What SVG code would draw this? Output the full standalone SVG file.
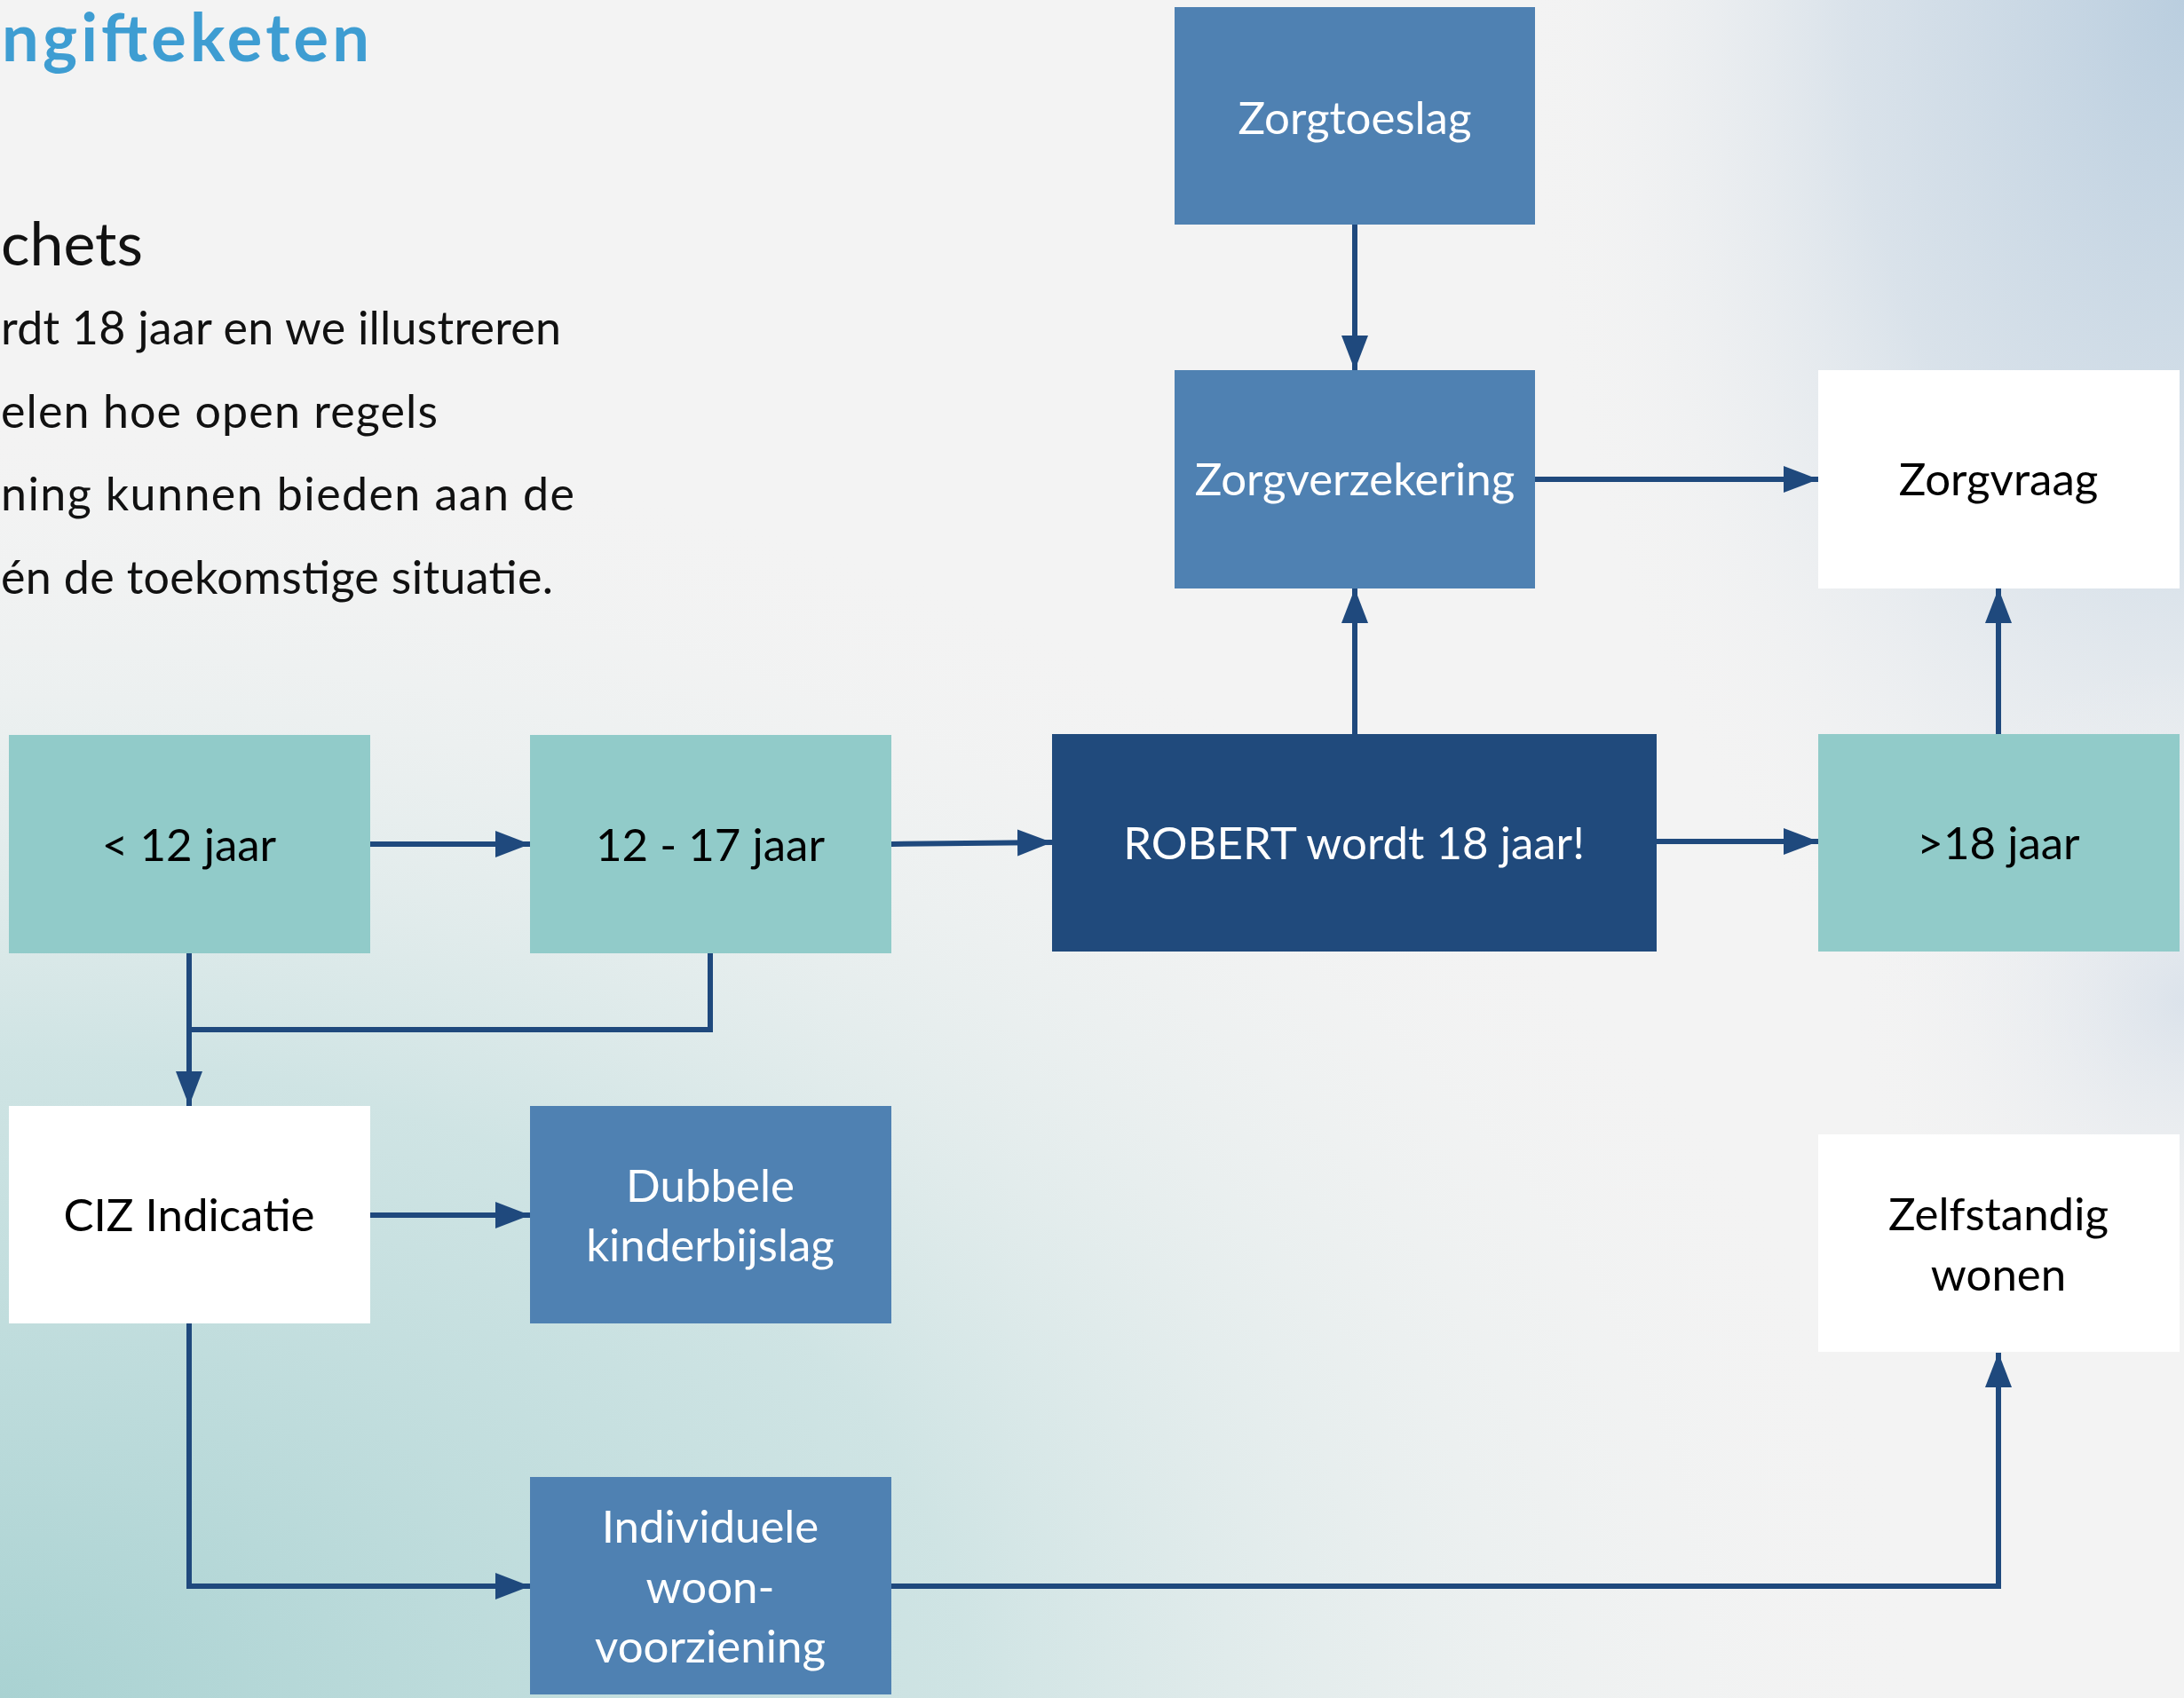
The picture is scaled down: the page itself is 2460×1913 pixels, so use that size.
<svg xmlns="http://www.w3.org/2000/svg" width="2460" height="1913" viewBox="0 0 2460 1913">
<defs>
<radialGradient id="gTeal" gradientUnits="userSpaceOnUse" cx="0" cy="1913" r="1450" gradientTransform="translate(0,1913) scale(1.5,1) translate(0,-1913)">
<stop offset="0" stop-color="#A9D2D2" stop-opacity="1"/>
<stop offset="0.5" stop-color="#C6E0E0" stop-opacity="0.8"/>
<stop offset="1" stop-color="#F3F3F3" stop-opacity="0"/>
</radialGradient>
<radialGradient id="gBlue" gradientUnits="userSpaceOnUse" cx="2460" cy="0" r="750" gradientTransform="translate(2460,0) scale(1,1.7) translate(-2460,0)">
<stop offset="0" stop-color="#BACEDF" stop-opacity="1"/>
<stop offset="0.5" stop-color="#D3DEE8" stop-opacity="0.8"/>
<stop offset="1" stop-color="#F3F3F3" stop-opacity="0"/>
</radialGradient>
<radialGradient id="gBlue2" gradientUnits="userSpaceOnUse" cx="2460" cy="1130" r="380">
<stop offset="0" stop-color="#D9E1EA" stop-opacity="0.9"/>
<stop offset="1" stop-color="#F3F3F3" stop-opacity="0"/>
</radialGradient>
<marker id="arr" markerUnits="userSpaceOnUse" markerWidth="42" markerHeight="32" refX="39" refY="15" orient="auto">
<path d="M0,0 L39,15 L0,30 z" fill="#1F497D"/>
</marker>
<style>
.body{font-family:Lato,"Noto Sans",sans-serif;font-size:52px;fill:#111}
.lbl{font-family:Lato,"Liberation Sans",sans-serif;font-size:51px;text-anchor:middle}
.w{fill:#ffffff}
.k{fill:#000000}
.blue{fill:#4F81B2}
.teal{fill:#91CBC9}
.navy{fill:#204A7C}
.white{fill:#ffffff}
.con{fill:none;stroke:#1F497D;stroke-width:6}
</style>
</defs>
<rect x="0" y="0" width="2460" height="1913" fill="#F3F3F3"/>
<rect x="0" y="0" width="2460" height="1913" fill="url(#gTeal)"/>
<rect x="0" y="0" width="2460" height="1913" fill="url(#gBlue)"/>
<rect x="0" y="0" width="2460" height="1913" fill="url(#gBlue2)"/>

<g id="heading">
<text x="2" y="69" textLength="414" style="font-family:Lato,'Liberation Sans',sans-serif;font-weight:bold;font-size:74px;fill:#3E9DD2">ngifteketen</text>
<text x="1" y="299" style="font-family:Lato,'Noto Sans',sans-serif;font-size:68px;fill:#111">chets</text>
<text class="body" x="1" y="388" textLength="631">rdt 18 jaar en we illustreren</text>
<text class="body" x="1" y="482" textLength="492">elen hoe open regels</text>
<text class="body" x="1" y="575" textLength="646">ning kunnen bieden aan de</text>
<text class="body" x="1" y="669" textLength="622">én de toekomstige situatie.</text>
</g>

<g id="connectors">
<line class="con" x1="1526" y1="253" x2="1526" y2="417" marker-end="url(#arr)"/>
<line class="con" x1="1729" y1="540" x2="2048" y2="540" marker-end="url(#arr)"/>
<line class="con" x1="1526" y1="827" x2="1526" y2="663" marker-end="url(#arr)"/>
<line class="con" x1="2251" y1="827" x2="2251" y2="663" marker-end="url(#arr)"/>
<line class="con" x1="1866" y1="948" x2="2048" y2="948" marker-end="url(#arr)"/>
<line class="con" x1="417" y1="951" x2="597" y2="951" marker-end="url(#arr)"/>
<line class="con" x1="1004" y1="951" x2="1185" y2="949" marker-end="url(#arr)"/>
<line class="con" x1="213" y1="1074" x2="213" y2="1246" marker-end="url(#arr)"/>
<polyline class="con" points="800,1074 800,1160 213,1160"/>
<line class="con" x1="417" y1="1369" x2="597" y2="1369" marker-end="url(#arr)"/>
<polyline class="con" points="213,1491 213,1787 597,1787" marker-end="url(#arr)"/>
<polyline class="con" points="1004,1787 2251,1787 2251,1524" marker-end="url(#arr)"/>
</g>

<g id="n-zorgtoeslag">
<rect class="blue" x="1323" y="8" width="406" height="245"/>
<text class="lbl w" x="1526" y="151">Zorgtoeslag</text>
</g>
<g id="n-zorgverzekering">
<rect class="blue" x="1323" y="417" width="406" height="246"/>
<text class="lbl w" x="1526" y="558">Zorgverzekering</text>
</g>
<g id="n-zorgvraag">
<rect class="white" x="2048" y="417" width="407" height="246"/>
<text class="lbl k" x="2251" y="558">Zorgvraag</text>
</g>
<g id="n-lt12">
<rect class="teal" x="10" y="828" width="407" height="246"/>
<text class="lbl k" x="213" y="970">&lt; 12 jaar</text>
</g>
<g id="n-12-17">
<rect class="teal" x="597" y="828" width="407" height="246"/>
<text class="lbl k" x="800" y="970">12 - 17 jaar</text>
</g>
<g id="n-robert">
<rect class="navy" x="1185" y="827" width="681" height="245"/>
<text class="lbl w" x="1525" y="968">ROBERT wordt 18 jaar!</text>
</g>
<g id="n-gt18">
<rect class="teal" x="2048" y="827" width="407" height="245"/>
<text class="lbl k" x="2251" y="968">&gt;18 jaar</text>
</g>
<g id="n-ciz">
<rect class="white" x="10" y="1246" width="407" height="245"/>
<text class="lbl k" x="213" y="1387">CIZ Indicatie</text>
</g>
<g id="n-dubbele">
<rect class="blue" x="597" y="1246" width="407" height="245"/>
<text class="lbl w" x="800" y="1354">Dubbele</text>
<text class="lbl w" x="800" y="1421">kinderbijslag</text>
</g>
<g id="n-individuele">
<rect class="blue" x="597" y="1664" width="407" height="245"/>
<text class="lbl w" x="800" y="1738">Individuele</text>
<text class="lbl w" x="800" y="1806">woon-</text>
<text class="lbl w" x="800" y="1873">voorziening</text>
</g>
<g id="n-zelfstandig">
<rect class="white" x="2048" y="1278" width="407" height="245"/>
<text class="lbl k" x="2251" y="1386">Zelfstandig</text>
<text class="lbl k" x="2251" y="1454">wonen</text>
</g>
</svg>
